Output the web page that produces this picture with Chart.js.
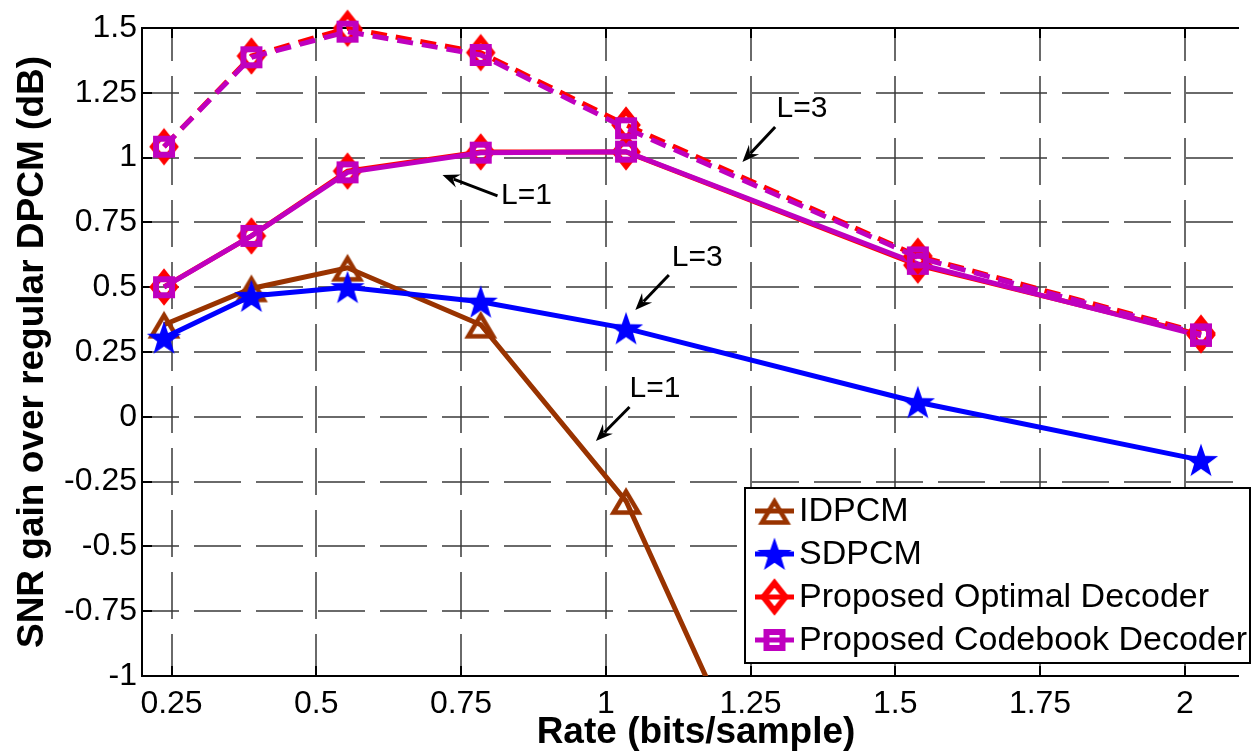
<!DOCTYPE html>
<html><head><meta charset="utf-8">
<script src="https://cdn.jsdelivr.net/npm/chart.js@4.4.0/dist/chart.umd.min.js"></script>
<style>html,body{margin:0;padding:0;background:#fff;overflow:hidden}#wrap{width:1254px;height:752px;position:relative}</style>
</head><body><div id="wrap"><canvas id="c" width="1254" height="752"></canvas></div>
<script>
// ---- data ----
const rates = [0.237, 0.388, 0.554, 0.784, 1.035, 1.539, 2.028];
const idpcm = [0.355, 0.495, 0.575, 0.355, -0.325, -2.8];
const sdpcm = [0.305, 0.466, 0.50, 0.444, 0.341, 0.056, -0.167];
const optimalL3 = [1.042, 1.392, 1.499, 1.405, 1.126, 0.62, 0.323];
const codebookL3 = [1.042, 1.387, 1.486, 1.396, 1.113, 0.615, 0.318];
const optimalL1 = [0.501, 0.698, 0.948, 1.022, 1.022, 0.585, 0.316];
const codebookL1 = [0.50, 0.698, 0.943, 1.019, 1.023, 0.59, 0.312];
const xTickValues = [0.25, 0.5, 0.75, 1, 1.25, 1.5, 1.75, 2];
const xTickLabels = ['0.25', '0.5', '0.75', '1', '1.25', '1.5', '1.75', '2'];
const yTickValues = [-1, -0.75, -0.5, -0.25, 0, 0.25, 0.5, 0.75, 1, 1.25, 1.5];
const yTickLabels = ['-1', '-0.75', '-0.5', '-0.25', '0', '0.25', '0.5', '0.75', '1', '1.25', '1.5'];
const legendLabels = ['IDPCM', 'SDPCM', 'Proposed Optimal Decoder', 'Proposed Codebook Decoder'];
const xTitle = 'Rate (bits/sample)';
const yTitle = 'SNR gain over regular DPCM (dB)';
const notes = [
  {text: 'L=3', tx: 1.339, ty: 1.191, x1: 1.2925, y1: 1.118, x2: 1.236, y2: 0.983},
  {text: 'L=1', tx: 0.863, ty: 0.856, x1: 0.813, y1: 0.852, x2: 0.718, y2: 0.933},
  {text: 'L=3', tx: 1.158, ty: 0.617, x1: 1.109, y1: 0.547, x2: 1.051, y2: 0.412},
  {text: 'L=1', tx: 1.085, ty: 0.111, x1: 1.041, y1: 0.038, x2: 0.983, y2: -0.093}
];

// ---- styles ----
const BROWN = '#993300', BLUE = '#0000ff', RED = '#ff0000', MAG = '#bf00bf';
const FONT = "'Liberation Sans', Arial, Helvetica, sans-serif";

function mk(w, h, draw) {
  const c = document.createElement('canvas');
  c.width = w; c.height = h;
  const g = c.getContext('2d');
  g.translate(w / 2, h / 2);
  draw(g);
  return c;
}
const mTri = mk(42, 42, g => {
  g.translate(0, 1.5);
  g.beginPath(); g.moveTo(0, -11); g.lineTo(12.5, 10); g.lineTo(-12.5, 10); g.closePath();
  g.lineWidth = 4.5; g.lineJoin = 'miter'; g.miterLimit = 10; g.strokeStyle = BROWN; g.stroke();
});
const mStar = mk(42, 42, g => {
  g.translate(0, 1.5);
  g.beginPath();
  for (let i = 0; i < 10; i++) {
    const r = i % 2 ? 7.2 : 18;
    const a = -Math.PI / 2 + i * Math.PI / 5;
    g.lineTo(r * Math.cos(a), r * Math.sin(a));
  }
  g.closePath(); g.fillStyle = BLUE; g.fill();
});
const mDia = mk(38, 46, g => {
  g.beginPath(); g.moveTo(0, -14); g.lineTo(11, 0); g.lineTo(0, 14); g.lineTo(-11, 0); g.closePath();
  g.lineWidth = 6; g.lineJoin = 'miter'; g.miterLimit = 10; g.strokeStyle = RED; g.stroke();
});
const mSq = mk(32, 32, g => {
  g.lineWidth = 6; g.lineJoin = 'miter'; g.strokeStyle = MAG; g.strokeRect(-8, -8, 16, 16);
});

function pts(ys) { return ys.map((y, i) => ({x: rates[i], y})); }
const DASH = [16, 9];

const datasets = [
  {label: legendLabels[3] + ' L=3', data: pts(codebookL3), borderColor: MAG, borderWidth: 5, borderDash: DASH, pointStyle: mSq, order: 1, clip: false},
  {label: legendLabels[2] + ' L=3', data: pts(optimalL3), borderColor: RED, borderWidth: 5, borderDash: DASH, pointStyle: mDia, order: 2, clip: false},
  {label: legendLabels[3] + ' L=1', data: pts(codebookL1), borderColor: MAG, borderWidth: 5, pointStyle: mSq, order: 3, clip: false},
  {label: legendLabels[2] + ' L=1', data: pts(optimalL1), borderColor: RED, borderWidth: 5, pointStyle: mDia, order: 4, clip: false},
  {label: legendLabels[1], data: pts(sdpcm), borderColor: BLUE, borderWidth: 5, pointStyle: mStar, order: 5, clip: false},
  {label: legendLabels[0], data: pts(idpcm), borderColor: BROWN, borderWidth: 5, pointStyle: mTri, order: 6,
   clip: {left: false, right: false, top: false, bottom: 0}}
];
datasets.forEach(d => { d.pointRadius = 12; d.tension = 0; d.fill = false; d.borderCapStyle = 'butt'; d.borderJoinStyle = 'miter'; });

const frame = {
  id: 'frame',
  beforeDatasetsDraw(chart) {
    const {ctx, chartArea: a, scales: {x, y}} = chart;
    ctx.save();
    // grid
    ctx.setLineDash([47, 15]);
    ctx.strokeStyle = '#6a6a6a'; ctx.lineWidth = 2;
    ctx.lineDashOffset = 10;
    yTickValues.forEach(v => {
      const py = Math.round(y.getPixelForValue(v));
      if (py <= a.top + 1 || py >= a.bottom - 1) return;
      ctx.beginPath(); ctx.moveTo(a.left, py); ctx.lineTo(a.right, py); ctx.stroke();
    });
    ctx.strokeStyle = '#3a3a3a'; ctx.lineWidth = 1.5;
    ctx.lineDashOffset = 14;
    xTickValues.forEach(v => {
      const px = Math.round(x.getPixelForValue(v));
      ctx.beginPath(); ctx.moveTo(px, a.top); ctx.lineTo(px, a.bottom); ctx.stroke();
    });
    ctx.setLineDash([]);
    // ticks
    ctx.strokeStyle = '#000'; ctx.lineWidth = 2;
    xTickValues.forEach(v => {
      const px = Math.round(x.getPixelForValue(v));
      ctx.beginPath(); ctx.moveTo(px, a.bottom); ctx.lineTo(px, a.bottom - 10);
      ctx.moveTo(px, a.top); ctx.lineTo(px, a.top + 10); ctx.stroke();
    });
    yTickValues.forEach(v => {
      const py = Math.round(y.getPixelForValue(v));
      ctx.beginPath(); ctx.moveTo(a.left, py); ctx.lineTo(a.left + 10, py); ctx.stroke();
    });
    // box (right side falls outside picture)
    ctx.lineWidth = 2;
    ctx.beginPath();
    ctx.moveTo(a.right + 2, a.top); ctx.lineTo(a.left, a.top); ctx.lineTo(a.left, a.bottom); ctx.lineTo(a.right + 2, a.bottom);
    ctx.stroke();
    ctx.restore();
  },
  afterDraw(chart) {
    const {ctx, chartArea: a, scales: {x, y}} = chart;
    ctx.save();
    // axis titles
    ctx.fillStyle = '#000';
    ctx.font = 'bold 37px ' + FONT;
    ctx.textAlign = 'center'; ctx.textBaseline = 'alphabetic';
    ctx.fillText(xTitle, (a.left + 1250) / 2, 743);
    ctx.save();
    ctx.translate(43, (a.top + a.bottom) / 2);
    ctx.rotate(-Math.PI / 2);
    ctx.fillText(yTitle, 0, 0);
    ctx.restore();
    // annotations
    ctx.font = '30px ' + FONT;
    ctx.textAlign = 'center'; ctx.textBaseline = 'middle';
    ctx.strokeStyle = '#000'; ctx.fillStyle = '#000';
    notes.forEach(n => {
      ctx.fillText(n.text, x.getPixelForValue(n.tx), y.getPixelForValue(n.ty) + 1);
      const x1 = x.getPixelForValue(n.x1), y1 = y.getPixelForValue(n.y1);
      const x2 = x.getPixelForValue(n.x2), y2 = y.getPixelForValue(n.y2);
      const ang = Math.atan2(y2 - y1, x2 - x1), c = Math.cos(ang), s = Math.sin(ang);
      const L = 17, W = 7;
      ctx.lineWidth = 3;
      ctx.beginPath(); ctx.moveTo(x1, y1); ctx.lineTo(x2 - L * 0.7 * c, y2 - L * 0.7 * s); ctx.stroke();
      ctx.beginPath();
      ctx.moveTo(x2, y2);
      ctx.lineTo(x2 - L * c + W * s, y2 - L * s - W * c);
      ctx.lineTo(x2 - L * 0.65 * c, y2 - L * 0.65 * s);
      ctx.lineTo(x2 - L * c - W * s, y2 - L * s + W * c);
      ctx.closePath(); ctx.fill();
    });
    // legend
    const bx = 745, by = 488, bw = 505, bh = 175;
    ctx.fillStyle = '#fff'; ctx.fillRect(bx, by, bw, bh);
    ctx.strokeStyle = '#000'; ctx.lineWidth = 2; ctx.strokeRect(bx, by, bw, bh);
    const rows = [
      {label: legendLabels[0], color: BROWN, m: mTri, w: 5},
      {label: legendLabels[1], color: BLUE, m: mStar, w: 5},
      {label: legendLabels[2], color: RED, m: mDia, w: 5},
      {label: legendLabels[3], color: MAG, m: mSq, w: 5}
    ];
    ctx.font = '34px ' + FONT;
    ctx.textAlign = 'left'; ctx.textBaseline = 'middle';
    rows.forEach((r, i) => {
      const cy = 511 + i * 43;
      ctx.strokeStyle = r.color; ctx.lineWidth = r.w;
      ctx.beginPath(); ctx.moveTo(755, cy); ctx.lineTo(794, cy); ctx.stroke();
      ctx.drawImage(r.m, 774.5 - r.m.width / 2, cy - r.m.height / 2);
      ctx.fillStyle = '#000';
      ctx.fillText(r.label, 799, cy + 1);
    });
    ctx.restore();
  }
};

new Chart(document.getElementById('c'), {
  type: 'line',
  data: {datasets},
  options: {
    responsive: false, animation: false, devicePixelRatio: 1,
    layout: {padding: {left: 0, right: 0, top: 28, bottom: 0}},
    plugins: {legend: {display: false}, tooltip: {enabled: false}},
    scales: {
      x: {
        type: 'linear', min: 0.199, max: 2.0902,
        afterFit: s => { s.height = 76; },
        afterBuildTicks: s => { s.ticks = xTickValues.map(v => ({value: v})); },
        grid: {display: false, drawTicks: false}, border: {display: false},
        ticks: {autoSkip: false, maxRotation: 0, padding: 9, color: '#000',
                font: {family: FONT, size: 32},
                callback: v => xTickLabels[xTickValues.indexOf(v)]}
      },
      y: {
        type: 'linear', min: -1, max: 1.5,
        afterFit: s => { s.width = 142; },
        afterBuildTicks: s => { s.ticks = yTickValues.map(v => ({value: v})); },
        grid: {display: false, drawTicks: false}, border: {display: false},
        ticks: {autoSkip: false, padding: 5, color: '#000',
                font: {family: FONT, size: 32},
                callback: v => yTickLabels[yTickValues.indexOf(v)]}
      }
    }
  },
  plugins: [frame]
});
</script>
</body></html>
